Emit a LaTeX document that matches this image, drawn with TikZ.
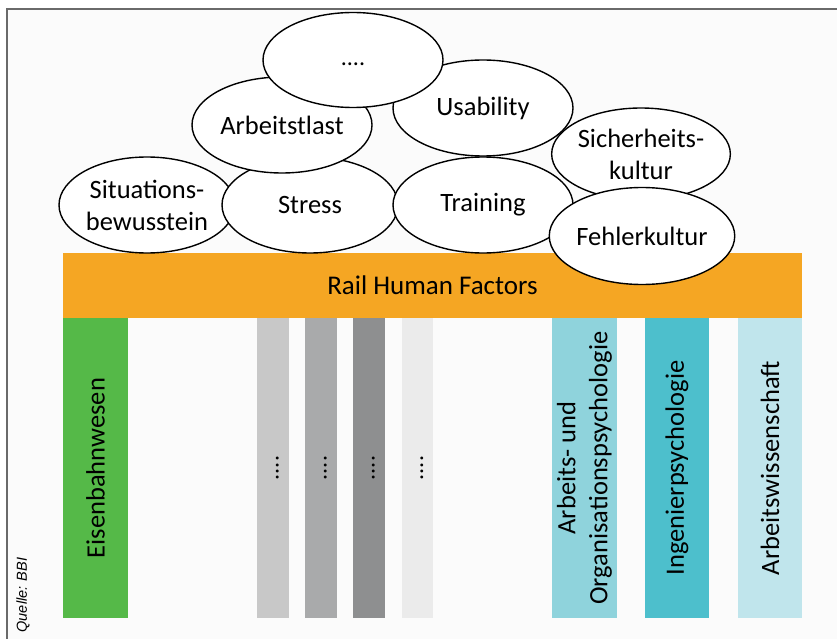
\documentclass[tikz,border=0pt]{standalone}
\usepackage{fontspec}
\setmainfont{Carlito}
\newfontfamily\quellefont{Liberation Sans}
\usepackage{tikz}
\usetikzlibrary{shapes.geometric}

\definecolor{hforange}{HTML}{F5A623}
\definecolor{railgreen}{HTML}{55B948}
\definecolor{tealA}{HTML}{8FD3DC}
\definecolor{tealB}{HTML}{4DBFCC}
\definecolor{tealC}{HTML}{C0E5EC}
\definecolor{greyA}{HTML}{C8C8C8}
\definecolor{greyB}{HTML}{A9AAAB}
\definecolor{greyC}{HTML}{8E8F90}
\definecolor{greyD}{HTML}{EBEBEB}
\definecolor{framegrey}{HTML}{6A6A6A}

\begin{document}
\begin{tikzpicture}[x=1pt, y=-1pt,
    topic/.style={ellipse, draw, line width=1.4pt, fill=white, inner sep=0pt,
      align=center, font=\fontsize{26.5}{32}\selectfont},
    field/.style={rectangle, rotate=90, minimum width=300pt, inner sep=0pt,
      align=center, font=\fontsize{26.5}{32}\selectfont},
    filler/.style={field, font=\fontsize{24}{28}\selectfont}]
  \useasboundingbox (0,0) rectangle (837,639);
  \fill [gray!3] (7,9) rectangle (837,639);
  \draw [framegrey, line width=1.5pt] (837,9) -- (7,9) -- (7,639);
  \node [rotate=90, inner sep=0pt, font=\quellefont\itshape\fontsize{14.5}{18}\selectfont]
    (quelle) at (23,595) {Quelle: BBI};

  \node [rectangle, fill=hforange, minimum width=739pt, minimum height=65pt, inner sep=0pt,
    font=\fontsize{27}{32}\selectfont] (hf) at (432.5,285.5) {Rail Human Factors};

  \node [field, fill=railgreen, minimum height=65pt] (eisenbahn) at (95.5,468) {Eisenbahnwesen};
  \node [filler, fill=greyA, minimum height=32pt] (misc1) at (273,468) {\strut....};
  \node [filler, fill=greyB, minimum height=32pt] (misc2) at (321,468) {\strut....};
  \node [filler, fill=greyC, minimum height=32pt] (misc3) at (369,468) {\strut....};
  \node [filler, fill=greyD, minimum height=31pt] (misc4) at (417.5,468) {\strut....};
  \node [field, fill=tealA, minimum height=65pt] (aopsy) at (584.5,468)
    {Arbeits- und\\Organisationspsychologie};
  \node [field, fill=tealB, minimum height=64pt] (ingpsy) at (677,468) {Ingenierpsychologie};
  \node [field, fill=tealC, minimum height=64pt] (arbwiss) at (770,468) {Arbeitswissenschaft};

  \node [topic, minimum width=176pt, minimum height=96pt] (situation) at (147,205)
    {Situations-\\bewusstein};
  \node [topic, minimum width=176pt, minimum height=96pt] (stress) at (310,205) {Stress};
  \node [topic, minimum width=180pt, minimum height=96pt] (usability) at (483,108) {Usability};
  \node [topic, minimum width=180pt, minimum height=96pt] (last) at (282,125) {Arbeitstlast};
  \node [topic, minimum width=180pt, minimum height=95pt, font=\fontsize{24}{28}\selectfont]
    (more) at (353,60) {\strut....};
  \node [topic, minimum width=178pt, minimum height=92pt] (sicherheit) at (641,154)
    {Sicherheits-\\kultur};
  \node [topic, minimum width=180pt, minimum height=96pt] (training) at (483,205) {Training};
  \node [topic, minimum width=179pt, minimum height=97pt] (fehler) at (642,236) {Fehlerkultur};
\end{tikzpicture}
\end{document}
